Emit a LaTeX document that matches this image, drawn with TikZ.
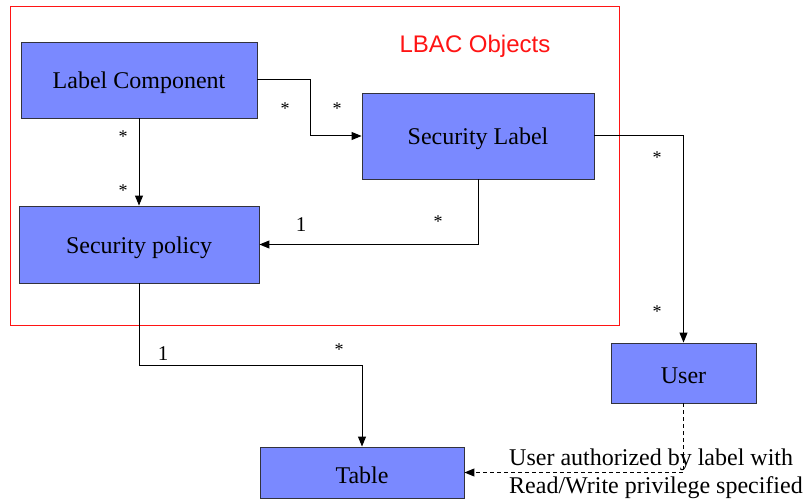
\documentclass[tikz,border=0pt]{standalone}
\usepackage{fontspec}
\setmainfont{Liberation Serif}
\newfontfamily\arialfont{Liberation Sans}
\usetikzlibrary{arrows.meta}
\definecolor{boxfill}{RGB}{122,137,255}
\definecolor{boxline}{RGB}{50,50,60}
\definecolor{lbacred}{RGB}{255,20,20}
\newcommand{\lowered}[1]{\raisebox{-3pt}[\height][\depth]{#1}}
\tikzset{
  entity/.style={draw=boxline, line width=0.9pt, fill=boxfill, inner sep=0pt,
    font=\fontsize{24}{28}\selectfont},
  link/.style={line width=1pt, -{Triangle[length=10pt,width=8pt]}},
  dlink/.style={link, dash pattern=on 4pt off 3pt},
  mult/.style={font=\fontsize{18}{20}\selectfont, inner sep=0pt},
  one/.style={font=\fontsize{21}{24}\selectfont, inner sep=0pt},
}
\begin{document}
\begin{tikzpicture}[x=1pt,y=-1pt]
\useasboundingbox (0,0) rectangle (809,502);
\fill[white] (0,0) rectangle (809,502);

% LBAC object group
\draw[lbacred, line width=1pt] (10,7) rectangle (619,326);
\node[lbacred, font=\arialfont\fontsize{24}{28}\selectfont, inner sep=0pt] (grp) at (475,46) {LBAC Objects};

% entities
\node[entity, minimum width=236pt, minimum height=76pt] (lc) at (139,80) {\lowered{Label Component}};
\node[entity, minimum width=240pt, minimum height=77pt] (sp) at (139,244.5) {\lowered{Security policy}};
\node[entity, minimum width=232pt, minimum height=86pt] (sl) at (478,136) {\lowered{Security Label}};
\node[entity, minimum width=145pt, minimum height=60pt] (user) at (683.5,373) {\lowered{User}};
\node[entity, minimum width=204pt, minimum height=51pt] (table) at (362,472.5) {\lowered{Table}};

% associations
\draw[link] (lc.east) -- ++(53,0) |- (sl.west);
\draw[link] (lc.south) -- (sp.north);
\draw[link] (sl.south) |- (sp.east);
\draw[link] (sl.east) -| (user.north);
\draw[link] (sp.south) -- ++(0,82) -| (table.north);
\draw[dlink] (user.south) |- (table.east);

% multiplicities
\node[mult] (m1) at (285,109) {*};
\node[mult] (m2) at (337,109) {*};
\node[mult] (m3) at (123,137) {*};
\node[mult] (m4) at (123,191) {*};
\node[one] (m5) at (301,225) {1};
\node[mult] (m6) at (438,222) {*};
\node[mult] (m7) at (657,158) {*};
\node[mult] (m8) at (657,312) {*};
\node[one] (m9) at (163,354) {1};
\node[mult] (m10) at (339,350) {*};

% note on the dashed dependency
\node[anchor=west, align=left, inner sep=0pt, font=\fontsize{24}{28}\selectfont] (note) at (509,474)
  {User authorized by label with\\Read/Write privilege specified};
\end{tikzpicture}
\end{document}
